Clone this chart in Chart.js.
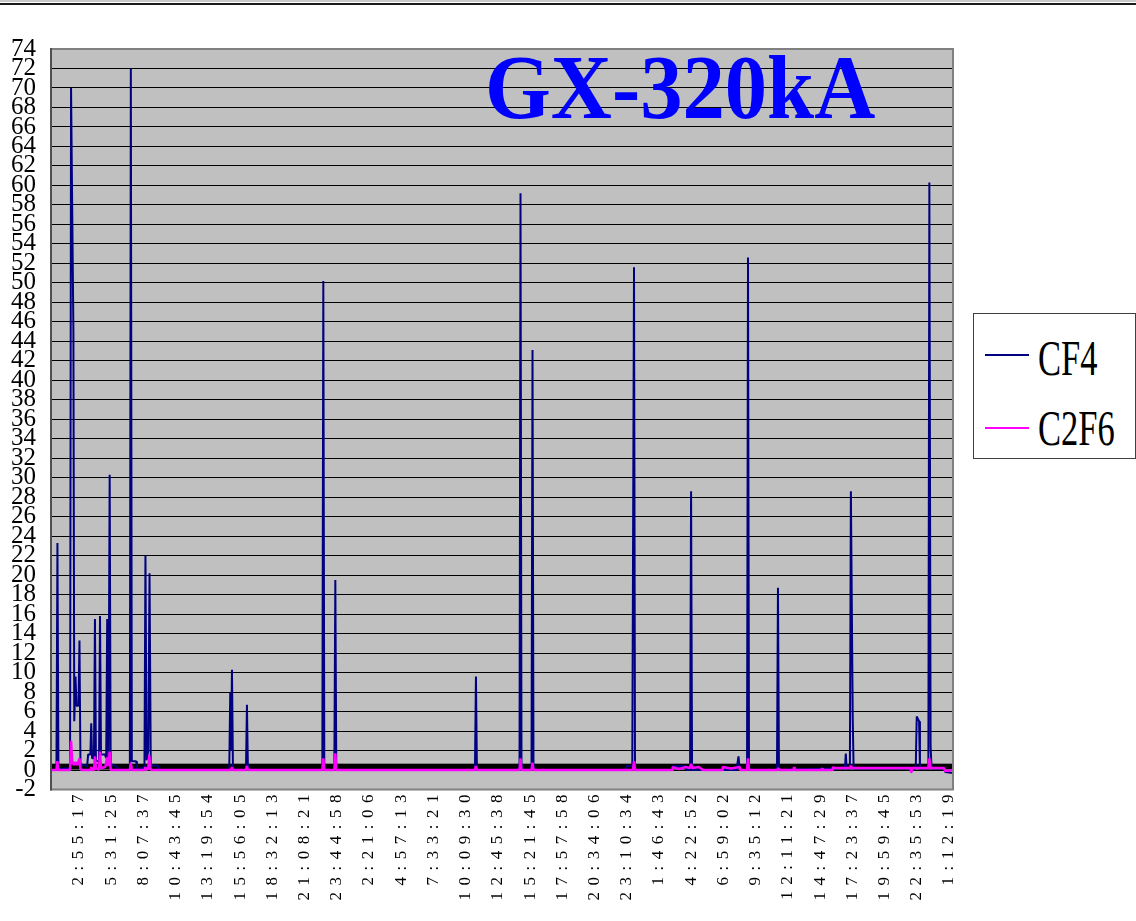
<!DOCTYPE html>
<html>
<head>
<meta charset="utf-8">
<script src="https://cdn.jsdelivr.net/npm/chart.js@4.4.1/dist/chart.umd.min.js"></script>
<style>
  body { margin: 0; background: #fff; }
  #wrap { position: relative; width: 1136px; height: 921px; overflow: hidden; }
  #line1 { position: absolute; left: 0; top: 0; width: 1136px; height: 2px; background: #c8c8c8; }
  #line2 { position: absolute; left: 0; top: 3px; width: 1136px; height: 2px; background: #1a1a1a; }
  #title { position: absolute; left: 485px; top: 41px; font: bold 92px "Liberation Serif"; line-height: 1;
           color: #0000ff; transform: scaleX(0.92); transform-origin: 0 0; white-space: nowrap; }
  #legend { position: absolute; left: 973px; top: 313px; width: 161px; height: 144px;
            border: 1px solid #404040; background: #fff; }
  .key { position: absolute; left: 11px; width: 44px; height: 2px; }
  .name { position: absolute; left: 64px; font: 50px "Liberation Serif"; line-height: 1; color: #000;
          transform: scaleX(0.69); transform-origin: 0 0; white-space: nowrap; }
</style>
</head>
<body>
<div id="wrap">
  <canvas id="myChart"></canvas>
  <div id="line1"></div>
  <div id="line2"></div>
  <div id="title">GX-320kA</div>
  <div id="legend">
    <div class="key" style="top:40px;background:#000080"></div>
    <div class="name" style="top:19px">CF4</div>
    <div class="key" style="top:113px;background:#ff00ff"></div>
    <div class="name" style="top:89px">C2F6</div>
  </div>
</div>
<script>
const TICK_LABELS = ["2:55:17", "5:31:25", "8:07:37", "10:43:45", "13:19:54", "15:56:05", "18:32:13",
    "21:08:21", "23:44:58", "2:21:06", "4:57:13", "7:33:21", "10:09:30", "12:45:38", "15:21:45",
    "17:57:58", "20:34:06", "23:10:34", "1:46:43", "4:22:52", "6:59:02", "9:35:12", "12:11:21",
    "14:47:29", "17:23:37", "19:59:45", "22:35:53", "1:12:19"];

// [hours since first midnight, value]
const CF4 = [
    [0.66, 0.0], [1.10, 0.0], [1.18, 23.3], [1.26, 0.1],
    [2.20, 0.2], [2.28, 70.0], [2.37, 58.0], [2.47, 45.0], [2.54, 5.0], [2.64, 9.6], [2.72, 6.6],
    [2.88, 6.6], [2.96, 13.3], [3.04, 0.6], [3.58, 0.4],
    [3.66, 1.6], [3.84, 1.6], [3.91, 4.8], [3.98, 1.2], [4.13, 1.2], [4.21, 15.5], [4.29, 1.0],
    [4.54, 0.8], [4.62, 15.8], [4.70, 1.6], [5.02, 1.6], [5.12, 1.2], [5.20, 15.5], [5.30, 1.0],
    [5.40, 30.3], [5.48, 0.6], [5.90, 0.4], [6.20, 0.0],
    [7.03, 0.0], [7.11, 72.0], [7.19, 0.9], [7.55, 0.9], [7.60, 0.0],
    [8.21, 0.3], [8.29, 22.0], [8.38, 1.0], [8.52, 2.0], [8.62, 20.2], [8.72, 0.5], [9.30, 0.4], [9.36, 0.0],
    [15.06, 0.0], [15.14, 7.9], [15.20, 2.0], [15.28, 10.3], [15.36, 0.0],
    [16.41, 0.0], [16.49, 6.7], [16.57, 0.0],
    [22.58, 0.0], [22.66, 50.2], [22.74, 0.0],
    [23.55, 0.0], [23.63, 19.5], [23.71, 0.0],
    [34.91, 0.0], [34.99, 9.6], [35.07, 0.0],
    [38.51, 0.0], [38.59, 59.2], [38.67, 0.3], [38.75, 0.0],
    [39.48, 0.0], [39.56, 43.1], [39.64, 0.0],
    [47.10, 0.0], [47.16, 0.4], [47.62, 0.4], [47.76, 51.6], [47.84, 0.0],
    [50.85, 0.0], [50.90, 0.4], [51.90, 0.4], [51.98, 0.0],
    [52.29, 0.0], [52.37, 28.6], [52.45, 0.0],
    [56.04, 0.0], [56.20, 1.4], [56.30, 0.0],
    [56.89, 0.0], [56.97, 52.6], [57.05, 0.0],
    [59.31, 0.0], [59.39, 18.7], [59.47, 0.0],
    [63.95, 0.15], [64.80, 0.15], [64.87, 1.7], [64.94, 0.15],
    [65.20, 0.15], [65.28, 28.6], [65.43, 5.3], [65.50, 0.15],
    [70.52, 0.15], [70.60, 5.5], [70.79, 5.0], [70.86, 0.15],
    [71.54, 0.15], [71.62, 60.3], [71.72, 2.4], [71.80, 0.15],
    [72.80, 0.15], [72.90, -0.2], [73.53, -0.3]
];

const C2F6 = [
    [0.66, 0.0], [1.10, 0.0], [1.17, 0.9], [1.25, 0.0],
    [2.20, 0.0], [2.28, 3.0], [2.37, 1.0], [2.50, 0.5], [2.64, 0.8], [2.80, 0.5], [2.96, 1.2], [3.04, 0.1], [3.20, 0.0],
    [3.86, 0.0], [3.92, 0.3], [3.98, 0.0],
    [4.13, 0.0], [4.21, 1.4], [4.29, 0.2], [4.54, 0.0], [4.62, 1.9], [4.70, 0.2], [5.05, 0.3], [5.20, 1.3],
    [5.30, 0.4], [5.40, 1.9], [5.48, 0.0],
    [7.03, 0.0], [7.11, 0.75], [7.19, 0.0],
    [8.21, 0.0], [8.29, 0.3], [8.37, 0.0], [8.52, 0.2], [8.60, 1.5], [8.68, 0.2], [8.76, 0.0],
    [15.20, 0.0], [15.28, 0.3], [15.36, 0.0],
    [16.41, 0.0], [16.49, 0.4], [16.57, 0.0],
    [22.58, 0.0], [22.66, 1.2], [22.74, 0.0],
    [23.55, 0.0], [23.63, 1.7], [23.71, 0.0],
    [34.91, 0.0], [34.99, 0.4], [35.07, 0.0],
    [38.51, 0.0], [38.59, 1.2], [38.67, 0.0],
    [39.48, 0.0], [39.56, 0.75], [39.64, 0.0],
    [47.68, 0.0], [47.76, 0.9], [47.84, 0.0],
    [50.83, 0.0], [50.88, 0.3], [51.40, 0.1], [51.90, 0.3], [52.29, 0.2], [52.37, 0.65], [52.45, 0.2],
    [53.00, 0.3], [53.33, 0.0],
    [54.87, 0.0], [54.92, 0.3], [55.60, 0.15], [56.30, 0.3], [56.35, 0.0],
    [56.89, 0.0], [56.97, 1.2], [57.05, 0.0],
    [59.35, 0.0], [59.41, 0.2], [59.47, 0.0],
    [60.64, 0.0], [60.69, 0.3], [60.74, 0.0],
    [62.90, 0.0], [62.95, 0.2], [63.00, 0.0],
    [63.79, 0.0], [63.84, 0.3], [63.95, 0.2],
    [65.20, 0.2], [65.28, 0.45], [65.36, 0.2],
    [70.09, 0.2], [70.14, -0.2], [70.19, 0.2],
    [71.54, 0.2], [71.62, 1.2], [71.70, 0.2],
    [72.80, 0.2], [72.89, -0.1], [73.53, 0.0]
];

const X_MIN = 0.66, X_MAX = 73.53;

// tick positions from the label clock times, rolling over at midnight
function toHours(labels) {
    var day = 0, prev = -1;
    return labels.map(function (t) {
        var p = t.split(":").map(Number);
        var h = p[0] + p[1] / 60 + p[2] / 3600;
        if (h < prev) day++;
        prev = h;
        return h + day * 24;
    });
}
const TICK_HOURS = toHours(TICK_LABELS);

function points(arr) {
    return arr.map(function (p) { return { x: p[0], y: p[1] }; });
}

const plotDecor = {
    id: "plotDecor",
    beforeDraw: function (chart) {
        var a = chart.chartArea, ctx = chart.ctx;
        ctx.save();
        ctx.fillStyle = "#c0c0c0";
        ctx.fillRect(a.left, a.top, a.right - a.left, a.bottom - a.top);
        ctx.restore();
    },
    beforeDatasetsDraw: function (chart) {
        // heavy axis line along zero
        var a = chart.chartArea, ctx = chart.ctx, y = chart.scales.y;
        var top = y.getPixelForValue(0.65), bot = y.getPixelForValue(0.05);
        ctx.save();
        ctx.fillStyle = "#000";
        ctx.fillRect(a.left, top, a.right - a.left, bot - top);
        ctx.restore();
    },
    afterDatasetsDraw: function (chart) {
        // x labels are drawn right after this (ticks.z = 1)
        chart.ctx.letterSpacing = "6.5px";
    },
    afterDraw: function (chart) {
        var a = chart.chartArea, ctx = chart.ctx;
        ctx.letterSpacing = "0px";
        ctx.save();
        ctx.strokeStyle = "#808080";
        ctx.lineWidth = 2;
        ctx.strokeRect(a.left, a.top, a.right - a.left, a.bottom - a.top);
        ctx.strokeStyle = "#505050";
        ctx.beginPath();
        ctx.moveTo(a.left, a.top - 1);
        ctx.lineTo(a.left, a.bottom + 1);
        ctx.stroke();
        ctx.restore();
    }
};

Chart.defaults.color = "#000";

const CHART = document.getElementById("myChart");
var myChart = new Chart(CHART, {
    type: "line",
    data: {
        datasets: [
            {
                label: "CF4",
                data: points(CF4),
                borderColor: "#000080",
                borderWidth: 2,
                borderJoinStyle: "bevel",
                pointRadius: 0,
                order: 1
            },
            {
                label: "C2F6",
                data: points(C2F6),
                borderColor: "#ff00ff",
                borderWidth: 2.5,
                borderJoinStyle: "bevel",
                pointRadius: 0,
                order: 0
            }
        ]
    },
    options: {
        responsive: true,
        maintainAspectRatio: false,
        animation: false,
        events: [],
        layout: { padding: { top: 49, right: 183, left: 0, bottom: 0 } },
        plugins: {
            legend: { display: false },
            tooltip: { enabled: false }
        },
        scales: {
            x: {
                type: "linear",
                min: X_MIN,
                max: X_MAX,
                afterBuildTicks: function (s) {
                    s.ticks = TICK_HOURS.map(function (v) { return { value: v }; });
                },
                afterFit: function (s) { s.height = 131.5; },
                ticks: {
                    autoSkip: false,
                    minRotation: 90,
                    maxRotation: 90,
                    padding: -1.5,
                    z: 1,
                    font: { family: "'Liberation Serif', serif", size: 17 },
                    callback: function (v, i) { return TICK_LABELS[i]; }
                },
                grid: { display: false, drawTicks: false },
                border: { display: false }
            },
            y: {
                min: -2,
                max: 74,
                afterFit: function (s) { s.width = 51; },
                ticks: {
                    stepSize: 2,
                    autoSkip: false,
                    padding: 15,
                    font: { family: "'Liberation Serif', serif", size: 25 }
                },
                grid: { color: "#000", lineWidth: 1, drawTicks: false },
                border: { display: false }
            }
        }
    },
    plugins: [plotDecor]
});
</script>
</body>
</html>
